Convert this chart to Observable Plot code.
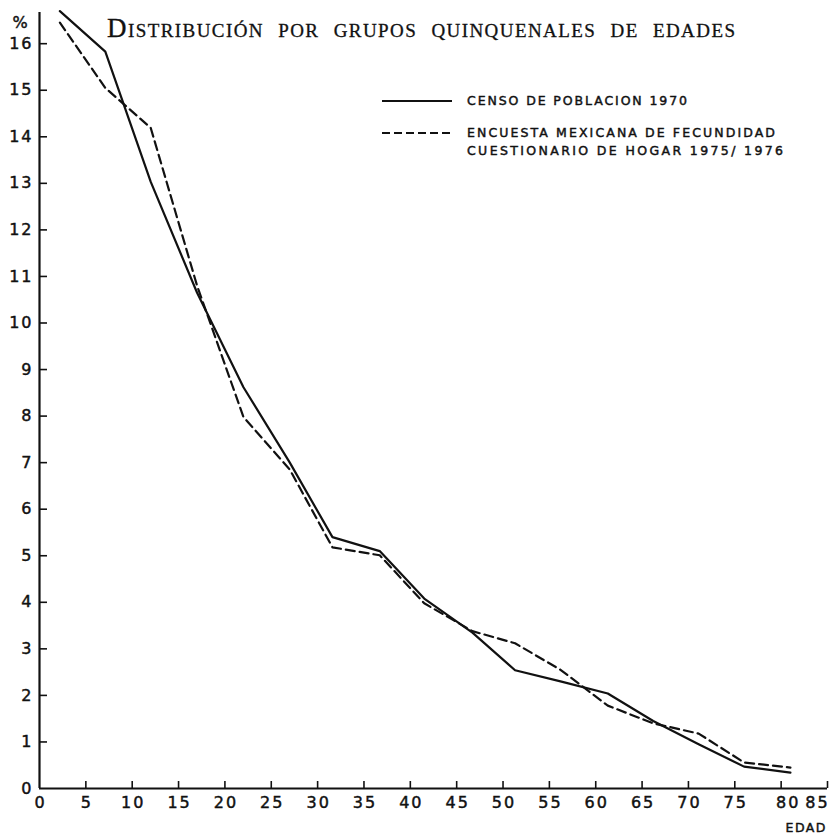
<!DOCTYPE html>
<html>
<head>
<meta charset="utf-8">
<script src="https://cdn.jsdelivr.net/npm/d3@7"></script>
<script src="https://cdn.jsdelivr.net/npm/@observablehq/plot@0.6"></script>
<style>
  body { margin: 0; background: #fff; }
  #wrap { position: relative; width: 833px; height: 835px; overflow: hidden; }
  #wrap > svg { position: absolute; left: 0; top: 0; }
  #overlay { pointer-events: none; }
  #wrap svg text { stroke: #111; stroke-width: 0.45px; paint-order: stroke; }
</style>
</head>
<body>
<div id="wrap"></div>
<script>
// ---- data ----
const title = "Distribución por grupos quinquenales de edades";
const ages = [2.2, 7.1, 12, 17, 22, 27, 31.6, 36.7, 41.5, 46.7, 51.3, 56.2, 61.3, 66.2, 71.1, 76, 81];
const censo1970 = [16.7, 15.83, 13.03, 10.65, 8.62, 7.0, 5.40, 5.10, 4.08, 3.35, 2.54, 2.30, 2.04, 1.45, 0.95, 0.47, 0.34];
const encuesta1976 = [16.45, 15.05, 14.19, 10.8, 7.98, 6.85, 5.18, 5.01, 3.98, 3.38, 3.12, 2.55, 1.78, 1.40, 1.18, 0.56, 0.45];
const seriesLabels = [["CENSO DE POBLACION 1970"], ["ENCUESTA MEXICANA DE FECUNDIDAD", "CUESTIONARIO DE HOGAR 1975/ 1976"]];
const xTicks = [0, 5, 10, 15, 20, 25, 30, 35, 40, 45, 50, 55, 60, 65, 70, 75, 80, 85];
const yTicks = [0, 1, 2, 3, 4, 5, 6, 7, 8, 9, 10, 11, 12, 13, 14, 15, 16];
const yUnit = "%";
const xUnit = "EDAD";

// ---- layout ----
const W = 833, H = 835;
const mL = 39, mR = 6, mT = 12, mB = 47;
const plotW = W - mL - mR, plotH = H - mT - mB;
const ink = "#111";
const dash = "9,5";

const rowsC = ages.map((a, i) => ({age: a, v: censo1970[i]}));
const rowsE = ages.map((a, i) => ({age: a, v: encuesta1976[i]}));

const xMain = xTicks.slice(0, -2);
const xLast = xTicks.slice(-2);

const chart = Plot.plot({
  width: W, height: H,
  marginLeft: mL, marginRight: mR, marginTop: mT, marginBottom: mB,
  style: {fontFamily: "'DejaVu Sans', sans-serif", fontSize: "16px", color: ink, background: "#fff", letterSpacing: "2px"},
  x: {domain: [0, 85]},
  y: {domain: [0, 16.67]},
  marks: [
    Plot.axisX(xMain, {tickSize: 0, tickPadding: 8, tickFormat: d => String(d), fontSize: 16, label: null, dx: 1}),
    Plot.axisX(xLast.slice(0, 1), {tickSize: 0, tickPadding: 8, tickFormat: d => String(d), fontSize: 16, label: null, dx: 7}),
    Plot.axisX(xLast.slice(1), {tickSize: 0, tickPadding: 8, tickFormat: d => String(d), fontSize: 16, label: null, dx: -10}),
    Plot.axisY(yTicks, {tickSize: 0, tickPadding: 6, tickFormat: d => String(d), fontSize: 16, label: null}),
    Plot.tickY(yTicks.filter(d => d > 0), {y: d => d, insetRight: plotW - 8, stroke: ink, strokeWidth: 1.6}),
    Plot.tickX(xTicks.filter(d => d > 0), {x: d => d, insetTop: plotH - 7, stroke: ink, strokeWidth: 1.6}),
    Plot.ruleY([0], {stroke: ink, strokeWidth: 2.2}),
    Plot.ruleX([0], {stroke: ink, strokeWidth: 2.2}),
    Plot.line(rowsC, {x: "age", y: "v", stroke: ink, strokeWidth: 2.2}),
    Plot.line(rowsE, {x: "age", y: "v", stroke: ink, strokeWidth: 2.2, strokeDasharray: dash})
  ]
});
document.getElementById("wrap").appendChild(chart);

// ---- overlay: title, units and legend ----
const ov = d3.select("#wrap").append("svg").attr("id", "overlay")
  .attr("width", W).attr("height", H);

ov.append("text").text(title)
  .attr("x", 107).attr("y", 37)
  .attr("textLength", 628).attr("lengthAdjust", "spacing")
  .style("font-family", "'Liberation Serif', 'DejaVu Serif', serif")
  .style("font-variant", "small-caps")
  .style("font-size", "27px").style("fill", ink)
  .style("stroke-width", "0.3px").style("word-spacing", "6px");

ov.append("text").text(yUnit).attr("x", 20).attr("y", 28).attr("text-anchor", "middle")
  .style("font-family", "'DejaVu Sans', sans-serif").style("font-size", "16px").style("fill", ink);
ov.append("text").text(xUnit).attr("x", 827).attr("y", 832).attr("text-anchor", "end")
  .style("font-family", "'DejaVu Sans', sans-serif").style("font-size", "12.5px")
  .style("letter-spacing", "1.5px").style("fill", ink);

const legY = [101, 133];
const legW = [[220], [308, 316]];
seriesLabels.forEach((lines, i) => {
  ov.append("line").attr("x1", 382).attr("x2", 452).attr("y1", legY[i]).attr("y2", legY[i])
    .attr("stroke", ink).attr("stroke-width", 2)
    .attr("stroke-dasharray", i === 1 ? "8,4" : null);
  lines.forEach((t, j) => {
    ov.append("text").text(t).attr("x", 467).attr("y", legY[i] + 4 + j * 18)
      .attr("textLength", legW[i][j]).attr("lengthAdjust", "spacing")
      .style("font-family", "'DejaVu Sans', sans-serif").style("font-size", "12.5px").style("fill", ink);
  });
});
</script>
</body>
</html>
